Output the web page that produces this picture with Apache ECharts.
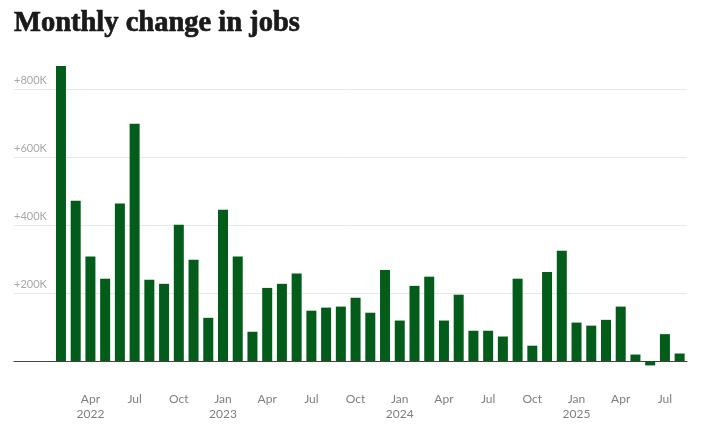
<!DOCTYPE html>
<html>
<head>
<meta charset="utf-8">
<script src="https://cdn.jsdelivr.net/npm/echarts@6/dist/echarts.min.js"></script>
<style>
html,body{margin:0;padding:0;background:#fff;}
#c{width:707px;height:433px;}
</style>
</head>
<body>
<div id="c"></div>
<script>
// Months from Feb 2022 to Aug 2025
const months = [
  '2022-02','2022-03','2022-04','2022-05','2022-06','2022-07','2022-08','2022-09','2022-10','2022-11','2022-12',
  '2023-01','2023-02','2023-03','2023-04','2023-05','2023-06','2023-07','2023-08','2023-09','2023-10','2023-11','2023-12',
  '2024-01','2024-02','2024-03','2024-04','2024-05','2024-06','2024-07','2024-08','2024-09','2024-10','2024-11','2024-12',
  '2025-01','2025-02','2025-03','2025-04','2025-05','2025-06','2025-07','2025-08'
];
// Monthly change in jobs (thousands)
const jobChange = [
  868, 471, 307, 242, 463, 698, 239, 227, 401, 298, 127,
  445, 307, 86, 215, 227, 257, 148, 157, 160, 186, 142, 268,
  119, 221, 248, 119, 195, 89, 89, 72, 242, 45, 262, 324,
  113, 104, 121, 160, 19, -13, 79, 22
];
const yTicks = [0, 200000, 400000, 600000, 800000];
const monthNames = ['Jan','Feb','Mar','Apr','May','Jun','Jul','Aug','Sep','Oct','Nov','Dec'];

const chart = echarts.init(document.getElementById('c'));
chart.setOption({
  animation: false,
  title: {
    text: 'Monthly change in jobs',
    left: 9, top: 4,
    textStyle: {fontFamily: 'Liberation Serif', fontWeight: 'bold', fontSize: 28.5, color: '#1a1a1a',
      textBorderColor: '#1a1a1a', textBorderWidth: 0.7}
  },
  grid: [
    {left: 14, right: 20, top: 89, bottom: 72, containLabel: false, outerBoundsMode: 'none'},
    {left: 53.6, right: 20, top: 55, bottom: 38, containLabel: false, outerBoundsMode: 'none'}
  ],
  xAxis: [
    {gridIndex: 0, type: 'value', min: 0, max: 1, show: true,
      axisLine: {show: true, lineStyle: {color: '#444', width: 1.2}},
      axisTick: {show: false}, axisLabel: {show: false}, splitLine: {show: false}},
    {gridIndex: 1, type: 'category', data: months,
      axisLine: {show: false},
      axisTick: {show: false},
      axisLabel: {
        interval: 0,
        margin: -3.5,
        color: '#808080',
        fontFamily: 'Lato',
        fontSize: 12,
        lineHeight: 15,
        formatter: function (v) {
          const y = v.slice(0, 4), m = parseInt(v.slice(5), 10);
          if (m % 3 !== 1) return '';
          const name = monthNames[m - 1];
          return (m === 1 || v === '2022-04') ? name + '\n' + y : name;
        }
      }}
  ],
  yAxis: [
    {gridIndex: 0, type: 'value', min: 0, max: 800000, interval: 200000,
      axisLine: {show: false}, axisTick: {show: false},
      splitLine: {show: true, lineStyle: {color: '#e8e8e8', width: 1}},
      axisLabel: {
        inside: true, margin: 0, verticalAlign: 'bottom', padding: [0, 0, 3, 0],
        color: '#a8a8a8', fontFamily: 'Lato', fontSize: 11,
        formatter: function (v) { return v === 0 ? '' : '+' + (v / 1000) + 'K'; }
      }},
    {gridIndex: 1, type: 'value', min: -100000, max: 900000, show: false,
      splitLine: {show: false}}
  ],
  series: [{
    type: 'bar',
    xAxisIndex: 1, yAxisIndex: 1,
    data: jobChange.map(v => v * 1000),
    barWidth: 10,
    itemStyle: {color: '#035c1a'}
  }]
});
</script>
</body>
</html>
